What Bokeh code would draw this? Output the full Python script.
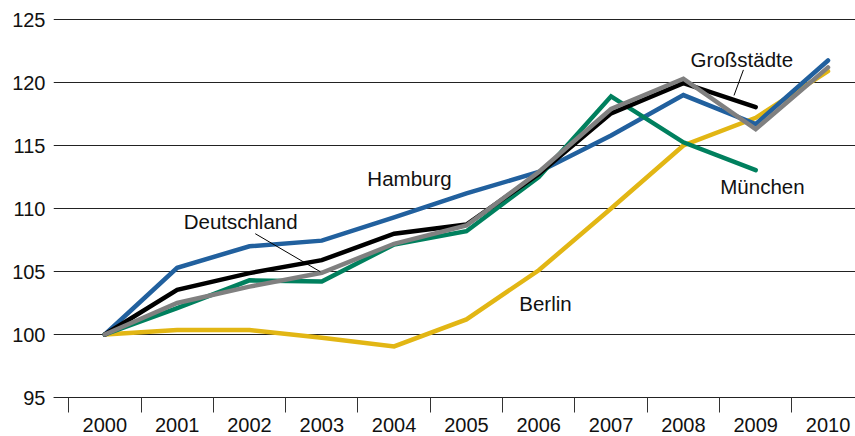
from bokeh.plotting import figure
from bokeh.models import Range1d, FixedTicker, ColumnDataSource
from bokeh.embed import file_html
from bokeh.resources import INLINE
from bokeh.core.properties import value

# ---- data ----
years = [2000, 2001, 2002, 2003, 2004, 2005, 2006, 2007, 2008, 2009, 2010]
years_short = years[:10]  # series that end in 2009

hamburg = [100.0, 105.3, 107.0, 107.45, 109.3, 111.2, 112.9, 115.8, 119.0, 116.7, 121.75]
deutschland = [100.0, 102.5, 103.8, 104.9, 107.2, 108.65, 112.9, 117.9, 120.3, 116.3, 121.2]
grossstaedte = [100.0, 103.55, 104.87, 105.9, 108.0, 108.73, 112.75, 117.55, 119.95, 118.05]
muenchen = [100.0, 102.1, 104.3, 104.2, 107.15, 108.2, 112.5, 118.9, 115.25, 113.05]
berlin = [100.0, 100.35, 100.35, 99.75, 99.05, 101.2, 105.1, 110.0, 115.0, 117.2, 120.9]

y_ticks = [95, 100, 105, 110, 115, 120, 125]
year_bounds = [1999.5, 2000.5, 2001.5, 2002.5, 2003.5, 2004.5, 2005.5, 2006.5, 2007.5, 2008.5, 2009.5]

label_text = ["Deutschland", "Hamburg", "Berlin", "Großstädte", "München"]
label_x = [2001.09, 2003.63, 2005.73, 2008.10, 2008.51]
label_y = [109.0, 112.38, 102.46, 121.83, 111.77]

leader_x0 = [2002.08, 2008.83]
leader_y0 = [108.0, 121.0]
leader_x1 = [2002.98, 2008.70]
leader_y1 = [104.98, 118.97]

FONT = "Liberation Sans"

p = figure(width=855, height=436, output_backend="svg", toolbar_location=None,
           x_range=Range1d(1999.29, 2010.38), y_range=Range1d(91.905, 126.508),
           min_border_left=53, min_border_right=0, min_border_top=0, min_border_bottom=0)
p.outline_line_color = None
p.background_fill_color = "white"
p.border_fill_color = "white"

# grid
p.xgrid.visible = False
p.ygrid.ticker = FixedTicker(ticks=y_ticks)
p.ygrid.grid_line_color = "#222222"
p.ygrid.grid_line_width = 1

# y axis
yax = p.yaxis[0]
yax.ticker = FixedTicker(ticks=y_ticks)
yax.axis_line_color = None
yax.major_tick_line_color = None
yax.major_tick_out = 0
yax.major_tick_in = 0
yax.minor_tick_line_color = None
yax.major_label_standoff = 8
yax.major_label_text_font = FONT
yax.major_label_text_font_size = "20px"
yax.major_label_text_color = "#111111"

# x axis fixed at 95
xax = p.xaxis[0]
xax.fixed_location = 95
xax.ticker = FixedTicker(ticks=years, minor_ticks=year_bounds)
xax.major_label_overrides = {y: str(y) for y in years}
xax.axis_line_color = "#222222"
xax.major_tick_line_color = None
xax.major_tick_out = 0
xax.major_tick_in = 0
xax.minor_tick_line_color = "#333333"
xax.minor_tick_out = 15
xax.minor_tick_in = 0
xax.major_label_standoff = 5
xax.major_label_text_font = FONT
xax.major_label_text_font_size = "20px"
xax.major_label_text_color = "#111111"

lw = 4.5
common = dict(line_width=lw, line_cap="round", line_join="miter")
p.line(years, berlin, line_color="#e2b614", **common)
p.line(years, hamburg, line_color="#21609e", **common)
p.line(years_short, muenchen, line_color="#00805e", **common)
p.line(years_short, grossstaedte, line_color="#000000", **common)
p.line(years, deutschland, line_color="#808080", **common)

p.segment(x0=leader_x0, y0=leader_y0, x1=leader_x1, y1=leader_y1,
          line_color="#000000", line_width=1)

src = ColumnDataSource(dict(x=label_x, y=label_y, t=label_text))
p.text(x="x", y="y", text="t", source=src, text_font=value(FONT),
       text_font_size=value("20.5px"), text_baseline="middle", text_align="left",
       text_color="#111111")

open("out.html", "w").write(file_html(p, INLINE))
